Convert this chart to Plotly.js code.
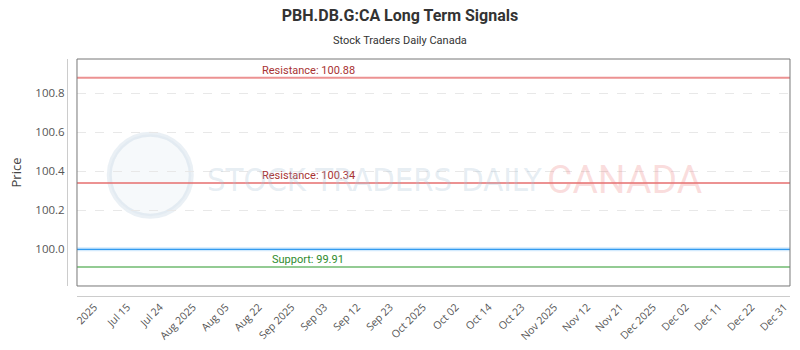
<!DOCTYPE html>
<html>
<head>
<meta charset="utf-8">
<script src="https://cdn.plot.ly/plotly-3.0.1.min.js"></script>
<style>html,body{margin:0;padding:0;background:#fff;}#chart{width:800px;height:350px;}</style>
</head>
<body>
<div id="chart"></div>
<script>
const xLabels = ['2025','Jul 15','Jul 24','Aug 2025','Aug 05','Aug 22','Sep 2025','Sep 03','Sep 12','Sep 23','Oct 2025','Oct 02','Oct 14','Oct 23','Nov 2025','Nov 12','Nov 21','Dec 2025','Dec 02','Dec 11','Dec 22','Dec 31'];
const priceValues = [100.0,100.0,100.0,100.0,100.0,100.0,100.0,100.0,100.0,100.0,100.0,100.0,100.0,100.0,100.0,100.0,100.0,100.0,100.0,100.0,100.0,100.0];
const resistanceLevels = [100.88, 100.34];
const supportLevels = [99.91];
const yTickVals = [100.0, 100.2, 100.4, 100.6, 100.8];
const yTickText = ['100.0','100.2','100.4','100.6','100.8'];

const first = xLabels[0], last = xLabels[xLabels.length - 1];
const traces = [];
// invisible trace to register categories on main x axis
traces.push({x: xLabels, y: priceValues, xaxis: 'x', yaxis: 'y', mode: 'lines', line: {width: 0}, opacity: 0, hoverinfo: 'skip', showlegend: false});
resistanceLevels.forEach(v => traces.push({
  x: [first, last], y: [v, v], xaxis: 'x2', yaxis: 'y', mode: 'lines',
  line: {color: 'rgba(230,110,110,0.75)', width: 2}, hoverinfo: 'skip', showlegend: false
}));
supportLevels.forEach(v => traces.push({
  x: [first, last], y: [v, v], xaxis: 'x2', yaxis: 'y', mode: 'lines',
  line: {color: 'rgba(120,190,120,0.8)', width: 2}, hoverinfo: 'skip', showlegend: false
}));
traces.push({
  x: xLabels, y: priceValues, xaxis: 'x2', yaxis: 'y', mode: 'lines',
  line: {color: 'rgba(33,150,243,0.2)', width: 4}, hoverinfo: 'skip', showlegend: false
});
traces.push({
  x: xLabels, y: priceValues, xaxis: 'x2', yaxis: 'y', mode: 'lines',
  line: {color: 'rgb(50,155,240)', width: 1.3}, hoverinfo: 'skip', showlegend: false
});

const condensed = 'DejaVu Sans Condensed, Liberation Sans Narrow, Roboto Condensed, Roboto';
const annotations = [];
resistanceLevels.forEach(v => annotations.push({
  xref: 'paper', yref: 'y', x: 0.333, y: v, yanchor: 'bottom', xanchor: 'center', yshift: -1,
  text: 'Resistance: ' + v.toFixed(2), showarrow: false,
  font: {family: 'Roboto', size: 11, color: '#a83232'}
}));
supportLevels.forEach(v => annotations.push({
  xref: 'paper', yref: 'y', x: 0.333, y: v, yanchor: 'bottom', xanchor: 'center', yshift: -1,
  text: 'Support: ' + v.toFixed(2), showarrow: false,
  font: {family: 'Roboto', size: 11, color: '#2e8b2e'}
}));
annotations.push({xref: 'paper', yref: 'paper', x: 0.46, y: 1.08, xanchor: 'center', yanchor: 'middle', showarrow: false,
  text: 'Stock Traders Daily Canada', font: {family: 'Roboto', size: 11, color: '#333'}});
annotations.push({xref: 'paper', yref: 'paper', x: 0.19, y: 0.49, xanchor: 'left', yanchor: 'middle', showarrow: false,
  text: 'STOCK TRADERS DAILY', font: {family: condensed, size: 32.5, color: 'rgba(170,195,215,0.3)'}});
annotations.push({xref: 'paper', yref: 'paper', x: 0.66, y: 0.49, xanchor: 'left', yanchor: 'middle', showarrow: false,
  text: 'CANADA', font: {family: 'Roboto', size: 39, color: 'rgba(235,120,120,0.25)'}});

const shapes = [
  {type: 'rect', xref: 'x domain', yref: 'y domain', x0: 0, x1: 1, y0: 0, y1: 1, line: {color: '#777', width: 1}, layer: 'above'},
  {type: 'circle', xref: 'paper', yref: 'paper', xsizemode: 'pixel', ysizemode: 'pixel', xanchor: 0.115, yanchor: 0.51,
   x0: -41, x1: 41, y0: -41, y1: 41, line: {color: 'rgba(170,195,215,0.25)', width: 5}, fillcolor: 'rgba(170,195,215,0.1)', layer: 'below'}
];

const layout = {
  width: 800, height: 350,
  margin: {l: 67, r: 9, t: 59, b: 54, pad: 0},
  paper_bgcolor: '#fff', plot_bgcolor: 'rgba(0,0,0,0)',
  title: {text: '<b>PBH.DB.G:CA Long Term Signals</b>', x: 0.5, xanchor: 'center', y: 0.955, yanchor: 'middle',
    font: {family: 'Roboto', size: 16, color: '#333'}},
  xaxis: {
    type: 'category', categoryorder: 'array', categoryarray: xLabels,
    domain: [0.0138, 0.9986], anchor: 'free', position: 0,
    range: [-0.53, 21.17], tickmode: 'array', tickvals: xLabels, ticktext: xLabels,
    tickangle: -45, showline: true, linecolor: '#ccc', linewidth: 1, showgrid: false, zeroline: false,
    ticks: '', tickfont: {family: 'Open Sans', size: 10.5, color: '#555'}
  },
  xaxis2: {
    type: 'category', categoryorder: 'array', categoryarray: xLabels,
    domain: [0.0138, 0.9986], overlaying: 'x', anchor: 'y', range: [0, 21], visible: false
  },
  yaxis: {
    domain: [0.0422, 1], anchor: 'free', position: 0, range: [99.812, 100.976],
    tickmode: 'array', tickvals: yTickVals, ticktext: yTickText,
    showline: true, linecolor: '#ccc', linewidth: 1, ticks: '', zeroline: false,
    showgrid: true, gridcolor: '#e8e8e8', griddash: 'dash', gridwidth: 1,
    tickfont: {family: 'Open Sans', size: 11.5, color: '#555'},
    title: {text: 'Price', font: {family: 'Open Sans', size: 13, color: '#444'}, standoff: 9}
  },
  annotations: annotations,
  shapes: shapes,
  showlegend: false
};

Plotly.newPlot('chart', traces, layout, {displayModeBar: false, staticPlot: true});
</script>
</body>
</html>
